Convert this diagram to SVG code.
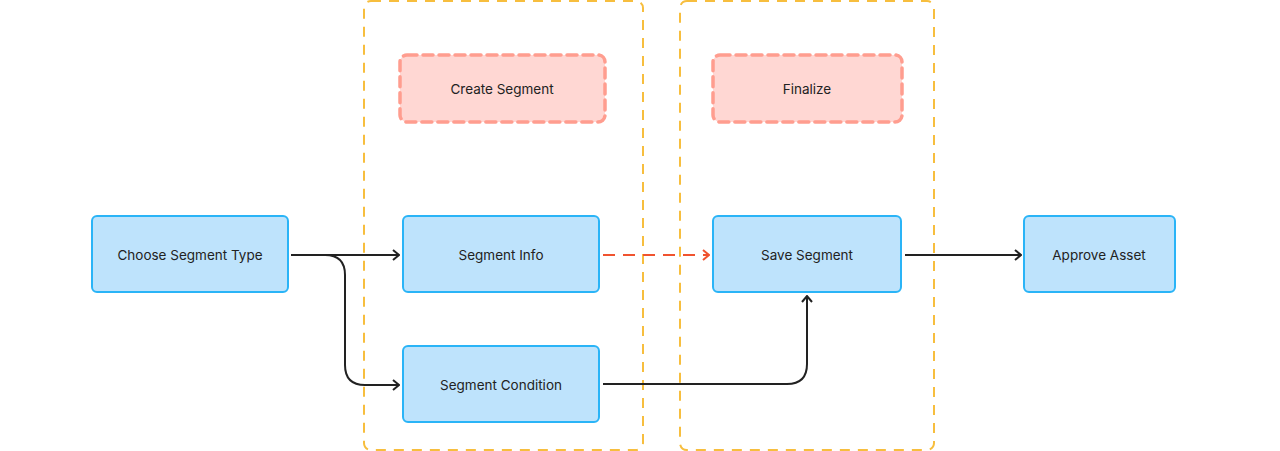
<svg xmlns="http://www.w3.org/2000/svg" width="1280" height="451" viewBox="0 0 1280 451">
<style>
.group{fill:none;stroke:#F7BE3E;stroke-width:2;stroke-dasharray:10 8}
.phase{fill:#FFD7D3;stroke:#FF9D8F;stroke-width:3.5;stroke-dasharray:10 6;stroke-linecap:round}
.node{fill:#BEE3FC;stroke:#2AB4F7;stroke-width:2}
.label{font-family:Inter,"Liberation Sans",sans-serif;font-size:13.5px;fill:#222;text-anchor:middle;dominant-baseline:central}
.edge{fill:none;stroke:#222;stroke-width:2}
.edge-red{fill:none;stroke:#F0532F;stroke-width:2;stroke-dasharray:12 8}
</style>
<defs>
<marker id="arr" viewBox="0 0 12 12" refX="11" refY="6" markerWidth="12" markerHeight="12" markerUnits="userSpaceOnUse" orient="auto">
<path d="M5,1 L11,6 L5,11" fill="none" stroke="#222" stroke-width="2"/>
</marker>
<marker id="arr-red" viewBox="0 0 12 12" refX="11" refY="6" markerWidth="12" markerHeight="12" markerUnits="userSpaceOnUse" orient="auto">
<path d="M5,1 L11,6 L5,11" fill="none" stroke="#F0532F" stroke-width="2"/>
</marker>
</defs>
<g id="lane-create"><rect class="group" x="364" y="1" width="279" height="449" rx="7"/></g>
<g id="lane-finalize"><rect class="group" x="680" y="1" width="254" height="449" rx="7"/></g>
<g id="create-segment"><rect class="phase" x="400" y="55" width="205" height="67" rx="7"/><text class="label" x="502" y="88.5">Create Segment</text></g>
<g id="finalize"><rect class="phase" x="713" y="55" width="189" height="67" rx="7"/><text class="label" x="807" y="88.5">Finalize</text></g>
<g id="connectors">
<path class="edge" d="M291,255 H399" marker-end="url(#arr)"/>
<path class="edge" d="M291,255 H325 Q345,255 345,275 V365 Q345,385 365,385 H399" marker-end="url(#arr)"/>
<path class="edge-red" d="M603,255 H709" marker-end="url(#arr-red)"/>
<path class="edge" d="M603,384 H787 Q807,384 807,364 V296" marker-end="url(#arr)"/>
<path class="edge" d="M905,255 H1021" marker-end="url(#arr)"/>
</g>
<g id="choose-segment-type"><rect class="node" x="92" y="216" width="196" height="76" rx="5"/><text class="label" x="190" y="254.5">Choose Segment Type</text></g>
<g id="segment-info"><rect class="node" x="403" y="216" width="196" height="76" rx="5"/><text class="label" x="501" y="254.5">Segment Info</text></g>
<g id="segment-condition"><rect class="node" x="403" y="346" width="196" height="76" rx="5"/><text class="label" x="501" y="384.5">Segment Condition</text></g>
<g id="save-segment"><rect class="node" x="713" y="216" width="188" height="76" rx="5"/><text class="label" x="807" y="254.5">Save Segment</text></g>
<g id="approve-asset"><rect class="node" x="1024" y="216" width="151" height="76" rx="5"/><text class="label" x="1099" y="254.5">Approve Asset</text></g>
</svg>
